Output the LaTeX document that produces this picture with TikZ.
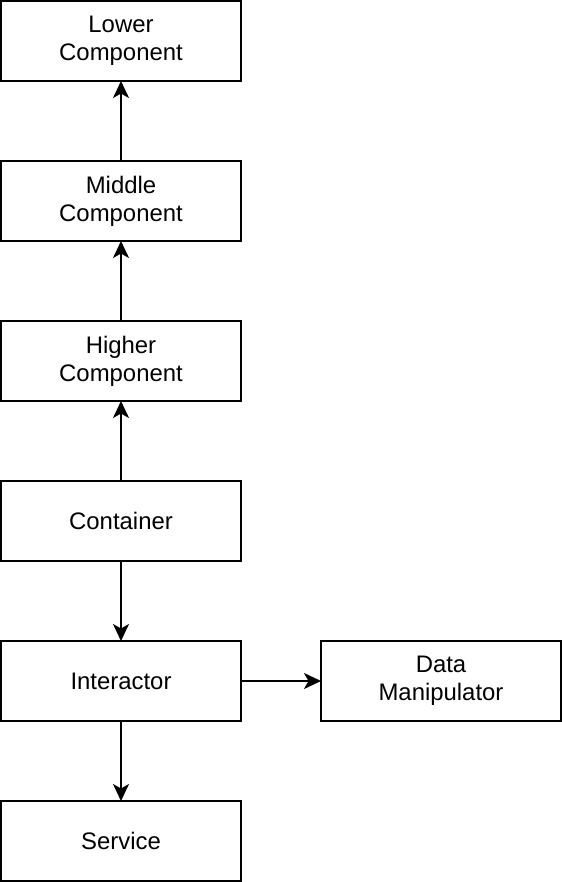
\documentclass[tikz,border=0pt]{standalone}
\usepackage{fontspec}
\setmainfont{Liberation Sans}
\usetikzlibrary{arrows.meta, positioning}

\tikzset{
    compbox/.style={draw, line width=1.1pt, minimum width=4.8cm, minimum height=1.6cm,
        align=center, inner sep=0pt, outer sep=0pt, font=\fontsize{13.6}{15.9}\selectfont},
    flow/.style={-{Stealth[length=0.34cm, width=0.32cm, inset=0.09cm]}, line width=1.1pt}
}

\begin{document}
\begin{tikzpicture}[node distance=1.6cm]
    \useasboundingbox (0,0) rectangle (11.24,-17.64);

    % Components chain
    \node[compbox] (lower) at (2.42,-0.82) {Lower\\Component};
    \node[compbox, below=of lower] (middle) {Middle\\Component};
    \node[compbox, below=of middle] (higher) {Higher\\Component};
    \node[compbox, below=of higher] (container) {Container};
    \node[compbox, below=of container] (interactor) {Interactor};
    \node[compbox, below=of interactor] (service) {Service};
    \node[compbox, right=of interactor] (datamanip) {Data\\Manipulator};

    % Arrows
    \draw[flow] (middle) -- (lower);
    \draw[flow] (higher) -- (middle);
    \draw[flow] (container) -- (higher);
    \draw[flow] (container) -- (interactor);
    \draw[flow] (interactor) -- (service);
    \draw[flow] (interactor) -- (datamanip);
\end{tikzpicture}
\end{document}
